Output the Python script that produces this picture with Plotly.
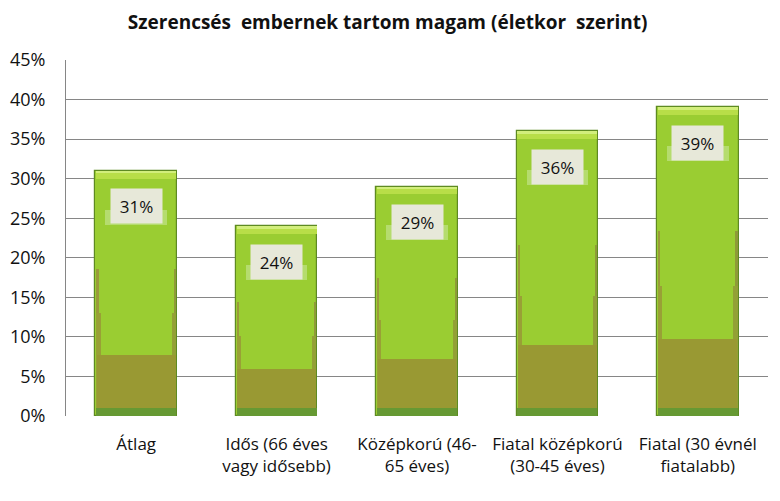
import plotly.graph_objects as go

categories = ["Átlag", "Idős (66 éves<br>vagy idősebb)", "Középkorú (46-<br>65 éves)",
              "Fiatal középkorú<br>(30-45 éves)", "Fiatal (30 évnél<br>fiatalabb)"]
values = [31, 24, 29, 36, 39]
labels = ["31%", "24%", "29%", "36%", "39%"]

FONT = "Open Sans, Noto Sans, sans-serif"
W = 0.58
fig = go.Figure()

def add_bar(y, base=None, width=W, offset=None, color="#9ACD32", line_color=None, line_w=0):
    fig.add_trace(go.Bar(
        x=categories, y=y, base=base, width=width, offset=offset if offset is not None else -width / 2,
        marker=dict(color=color, line=dict(color=line_color or color, width=line_w)),
        hoverinfo="skip", showlegend=False))

# main bar body
add_bar(values, color="#9ACD32", line_color="#5E8A22", line_w=1.2)
# side olive strips (bevel shading)
add_bar([v * 0.6 for v in values], width=0.016, offset=-W / 2 + 0.006, color="#9A9A3A")
add_bar([v * 0.6 for v in values], width=0.016, offset=W / 2 - 0.022, color="#8E9A38")
add_bar([v * 0.42 for v in values], width=0.03, offset=-W / 2 + 0.006, color="#99A036")
add_bar([v * 0.42 for v in values], width=0.03, offset=W / 2 - 0.036, color="#93A036")
# olive lower part
add_bar([v * 0.25 for v in values], width=W - 0.02, color="#999933")
# dark green bottom strip
add_bar([1.0] * len(values), width=W - 0.01, color="#669933")
# top bevel
add_bar([1.0] * len(values), base=[v - 1.0 for v in values], width=W - 0.01, color="#B8DE48")
add_bar([0.3] * len(values), base=[v - 0.3 for v in values], width=W - 0.01, color="#D2EE7C")
# glow behind label
add_bar([1.9] * len(values), base=[v - 6.8 for v in values], width=0.44, color="rgba(200,230,150,0.6)")

for c, v, t in zip(categories, values, labels):
    fig.add_annotation(x=c, y=v - 4.5, text=t, showarrow=False,
                       font=dict(family=FONT, size=17, color="#111111"),
                       bgcolor="#E7E8D9", width=49, height=32)

fig.update_layout(
    barmode="overlay",
    width=780, height=501,
    margin=dict(l=66, r=12, t=60, b=85),
    paper_bgcolor="white", plot_bgcolor="white",
    title=dict(text="<b>Szerencsés  embernek tartom magam (életkor  szerint)</b>",
               x=0.497, xanchor="center", y=0.956, yanchor="middle",
               font=dict(family=FONT, size=19, color="#111111")),
    font=dict(family=FONT, size=17, color="#111111"),
    xaxis=dict(range=[-0.5, 4.5], showgrid=False, showline=False, ticks="",
               tickfont=dict(size=17), ticklabelstandoff=16, automargin=False),
    yaxis=dict(range=[0, 45], dtick=5, ticksuffix="%", showgrid=True, gridcolor="#868686",
               gridwidth=1, showline=True, linecolor="#868686", linewidth=1, zeroline=False,
               ticks="", tickfont=dict(size=18), ticklabelstandoff=16, automargin=False),
    bargap=0,
)

fig.write_html("out.html", config={"displayModeBar": False},
               post_script="document.body.style.margin='0px';")
